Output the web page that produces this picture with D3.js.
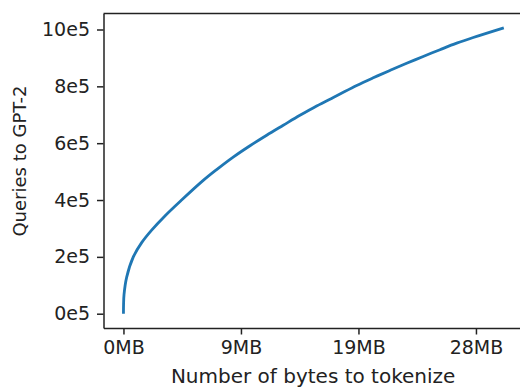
<!DOCTYPE html>
<html>
<head>
<meta charset="utf-8">
<script src="https://cdn.jsdelivr.net/npm/d3@7"></script>
<style>
  html, body { margin: 0; padding: 0; background: #fff; }
  svg { display: block; }
  text { font-family: "DejaVu Sans", sans-serif; fill: #222; }
</style>
</head>
<body>
<svg id="chart" width="520" height="388"></svg>
<script>
// Data: x = bytes tokenized (millions of bytes), y = queries to GPT-2 (thousands)
const bytesM = [0, 0.01, 0.05, 0.27, 0.83, 1.55, 2.40, 3.53, 4.95, 6.79, 7.93, 9.34, 10.77, 12.19, 13.60, 15.02, 16.44, 17.86, 18.43, 19.85, 21.26, 22.68, 24.10, 25.51, 26.94, 28.36, 29.77, 32.37];
const queriesK = [0, 34, 68, 128, 199, 250, 294, 344, 400, 469, 507, 551, 591, 628, 663, 698, 731, 761, 773, 803, 830, 856, 881, 905, 929, 952, 972, 1006];
const xTickValues = [0, 10, 20, 30];          // millions of bytes
const yTickValues = [0, 200, 400, 600, 800, 1000]; // thousands of queries
const xLabel = "Number of bytes to tokenize";
const yLabel = "Queries to GPT-2";

(function () {
const svg = d3.select("#chart");
const mLeft = 103.5, mTop = 13.5, mBottom = 328;
const pxPerMB = 11.75;

const xMax = d3.max(bytesM), yMax = d3.max(queriesK);
const xDom = [-0.05 * xMax - 0.08, 1.05 * xMax];
const x = d3.scaleLinear().domain(xDom).range([mLeft, mLeft + (xDom[1] - xDom[0]) * pxPerMB]);
const y = d3.scaleLinear().domain([-0.05 * yMax, 1.05 * yMax]).range([mBottom, mTop]);
const mRight = x.range()[1];

const fontSize = 19;

// spines top/right
svg.append("line").attr("x1", mLeft).attr("x2", mRight).attr("y1", mTop).attr("y2", mTop)
  .attr("stroke", "#222").attr("stroke-width", 1.5);
svg.append("line").attr("x1", mRight).attr("x2", mRight).attr("y1", mTop).attr("y2", mBottom)
  .attr("stroke", "#222").attr("stroke-width", 1.5);

// x axis
const xAxis = d3.axisBottom(x).tickValues(xTickValues).tickSizeOuter(0).tickSizeInner(6.5).tickPadding(6)
  .tickFormat(v => Math.floor(v * 1e6 / 1048576) + "MB");
const gx = svg.append("g").attr("transform", `translate(0,${mBottom})`).call(xAxis);
gx.select(".domain").attr("stroke", "#222").attr("stroke-width", 1.5);
gx.selectAll(".tick line").attr("stroke", "#222").attr("stroke-width", 1.5);
gx.selectAll(".tick text").attr("font-size", fontSize).attr("font-family", "DejaVu Sans").attr("fill", "#222");

// y axis
const yAxis = d3.axisLeft(y).tickValues(yTickValues).tickSizeOuter(0).tickSizeInner(6.5).tickPadding(7)
  .tickFormat(v => (v / 100) + "e5");
const gy = svg.append("g").attr("transform", `translate(${mLeft},0)`).call(yAxis);
gy.select(".domain").attr("stroke", "#222").attr("stroke-width", 1.5);
gy.selectAll(".tick line").attr("stroke", "#222").attr("stroke-width", 1.5);
gy.selectAll(".tick text").attr("font-size", fontSize).attr("font-family", "DejaVu Sans").attr("fill", "#222");

// line
const data = bytesM.map((b, i) => [b, queriesK[i]]);
svg.append("path").datum(data)
  .attr("fill", "none").attr("stroke", "#1f77b4").attr("stroke-width", 2.8)
  .attr("stroke-linejoin", "round").attr("stroke-linecap", "butt")
  .attr("d", d3.line().x(d => x(d[0])).y(d => y(d[1])).curve(d3.curveCatmullRom.alpha(0.5)));

// labels
svg.append("text").attr("x", (mLeft + mRight) / 2).attr("y", 383.3).attr("text-anchor", "middle")
  .attr("font-size", 20).text(xLabel);
svg.append("text").attr("transform", `translate(25.5,161) rotate(-90)`)
  .attr("text-anchor", "middle").attr("font-size", 18).text(yLabel);
})();
</script>
</body>
</html>
